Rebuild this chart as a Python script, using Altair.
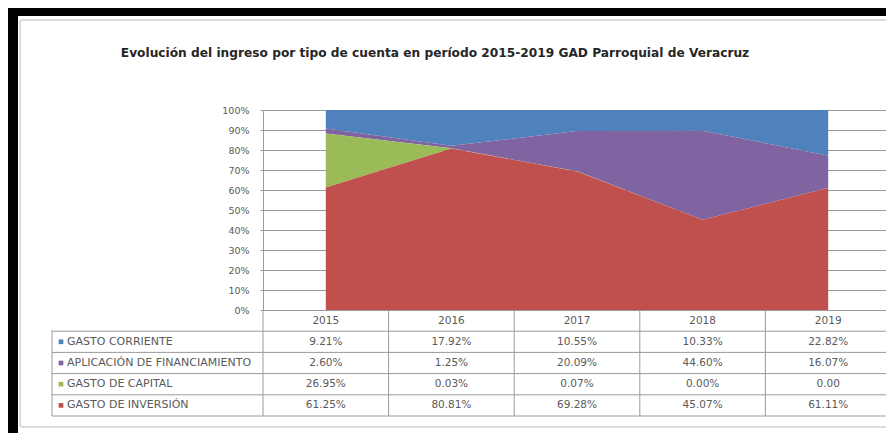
import altair as alt
import pandas as pd

# ---------------- data ----------------
years = ["2015", "2016", "2017", "2018", "2019"]
series = ["GASTO CORRIENTE", "APLICACIÓN DE FINANCIAMIENTO", "GASTO DE CAPITAL", "GASTO DE INVERSIÓN"]
gasto_corriente = [9.21, 17.92, 10.55, 10.33, 22.82]
aplicacion_financiamiento = [2.60, 1.25, 20.09, 44.60, 16.07]
gasto_capital = [26.95, 0.03, 0.07, 0.00, 0.00]
gasto_inversion = [61.25, 80.81, 69.28, 45.07, 61.11]
colors = ["#4F81BD", "#8064A2", "#9BBB59", "#C0504D"]
stack_rank = [3, 2, 1, 0]  # bottom -> top: inversión, capital, aplicación, corriente
y_ticks = [i / 10 for i in range(11)]
title_text = "Evolución del ingreso por tipo de cuenta en período 2015-2019 GAD Parroquial de  Veracruz"

values = [gasto_corriente, aplicacion_financiamiento, gasto_capital, gasto_inversion]

rows = []
for s, vals, rk in zip(series, values, stack_rank):
    for y, v in zip(years, vals):
        txt = f"{v:.2f}%"
        if s == "GASTO DE CAPITAL" and y == "2019":
            txt = "0.00"  # as printed in the reference table
        rows.append({"year": y, "series": s, "value": v, "rank": rk, "row": s, "text": txt})
df = pd.DataFrame(rows)

header = pd.DataFrame({"year": years, "row": ["hdr"] * len(years), "text": years})
table_df = pd.concat([df[["year", "row", "text"]], header], ignore_index=True)
labels_df = pd.DataFrame({"row": series, "series": series})
row_lines_df = pd.DataFrame({"row": ["hdr"] + series})
col_df = pd.DataFrame({"year": years})
title_df = pd.DataFrame({"t": [title_text]})

FONT = "DejaVu Sans"
GRAY_TXT = "#5a5a5a"
LINE = "#9a9a9a"

xscale = alt.Scale(type="band", domain=years, range=[0, 628], paddingInner=0, paddingOuter=0)
cscale = alt.Scale(domain=series, range=colors)
row_domain = ["hdr"] + series
tscale = alt.Scale(type="band", domain=row_domain, range=[200, 306], paddingInner=0, paddingOuter=0)

# frame decorations
frame_df = pd.DataFrame({"k": [0]})
black_frame = alt.Chart(frame_df).mark_rect(fillOpacity=0, stroke="black", strokeWidth=18).encode(
    x=alt.value(-254), x2=alt.value(800), y=alt.value(-103), y2=alt.value(400)
)
gray_frame = alt.Chart(frame_df).mark_rect(fillOpacity=0, stroke="#cfcfcf", strokeWidth=1.5, cornerRadius=3).encode(
    x=alt.value(-243), x2=alt.value(628), y=alt.value(-90), y2=alt.value(317)
)

area = alt.Chart(df).mark_area(opacity=1, interpolate="linear").encode(
    x=alt.X("year:O", scale=xscale, axis=None, bandPosition=0.5),
    y=alt.Y(
        "value:Q",
        stack="normalize",
        scale=alt.Scale(domain=[0, 1]),
        axis=alt.Axis(
            values=y_ticks, format=".0%", title=None, grid=True,
            gridColor=LINE, domainColor=LINE, tickColor=LINE, tickSize=3,
            labelPadding=11, labelFontSize=9.5, labelColor=GRAY_TXT, labelFont=FONT,
        ),
    ),
    color=alt.Color("series:N", scale=cscale, legend=None),
    order=alt.Order("rank:Q", sort="ascending"),
)

col_lines = alt.Chart(col_df).mark_rule(color=LINE, strokeWidth=1).encode(
    x=alt.X("year:O", scale=xscale, axis=None, bandPosition=0),
    y=alt.value(200), y2=alt.value(306),
)

row_lines = alt.Chart(row_lines_df).mark_rule(color=LINE, strokeWidth=1).encode(
    y=alt.Y("row:N", scale=tscale, axis=None, bandPosition=1),
    x=alt.value(-211), x2=alt.value(628),
)

left_border = alt.Chart(frame_df).mark_rule(color=LINE, strokeWidth=1).encode(
    x=alt.value(-211), y=alt.value(220.5), y2=alt.value(306)
)

cells = alt.Chart(table_df).mark_text(font=FONT, fontSize=10.5, color=GRAY_TXT).encode(
    x=alt.X("year:O", scale=xscale, axis=None),
    y=alt.Y("row:N", scale=tscale, axis=None),
    text="text:N",
)

row_labels = alt.Chart(labels_df).mark_text(font=FONT, fontSize=11, color=GRAY_TXT, align="left").encode(
    x=alt.value(-196),
    y=alt.Y("row:N", scale=tscale, axis=None),
    text="series:N",
)

swatches = alt.Chart(labels_df).mark_square(size=22, opacity=1).encode(
    x=alt.value(-202),
    y=alt.Y("row:N", scale=tscale, axis=None),
    color=alt.Color("series:N", scale=cscale, legend=None),
)

title = alt.Chart(title_df).mark_text(font=FONT, fontSize=12.2, fontWeight="bold", color="#262626").encode(
    x=alt.value(172), y=alt.value(-57), text="t:N"
)

chart = alt.layer(
    area, col_lines, row_lines, left_border, cells, row_labels, swatches, title, gray_frame, black_frame
).resolve_scale(y="independent").properties(
    width=623,
    height=200,
    background="white",
    padding={"left": 255, "top": 102, "right": 0, "bottom": 123},
    autosize=alt.AutoSizeParams(type="none"),
).configure_view(stroke=None)

chart.save("out.html", embed_options={"renderer": "svg", "actions": False})
